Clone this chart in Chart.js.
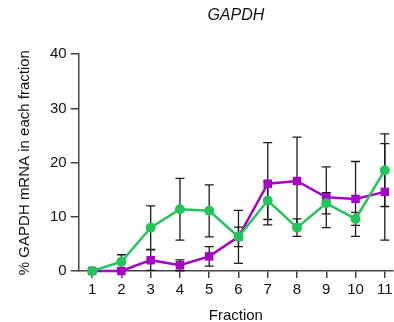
<!DOCTYPE html>
<html>
<head>
<meta charset="utf-8">
<script src="https://cdn.jsdelivr.net/npm/chart.js@4.4.1/dist/chart.umd.min.js"></script>
<style>
  html, body { margin: 0; padding: 0; background: #fff; }
  #wrap { width: 394px; height: 322px; position: relative; }
</style>
</head>
<body>
<div id="wrap"><canvas id="chart_1"></canvas></div>
<script>
const fractions = [1, 2, 3, 4, 5, 6, 7, 8, 9, 10, 11];
const greenValues = [0, 1.7, 8.0, 11.4, 11.1, 6.3, 13.0, 8.0, 12.5, 9.6, 18.6];
const greenErrors = [0, 1.3, 4.0, 5.7, 4.8, 4.9, 3.5, 1.6, 1.95, 1.2, 6.7];
const purpleValues = [0, 0, 2.0, 1.05, 2.7, 6.3, 16.1, 16.6, 13.6, 13.3, 14.6];
const purpleErrors = [0, 0.3, 1.9, 1.0, 1.8, 1.8, 7.6, 8.1, 5.6, 6.9, 8.9];
const yTicks = [0, 10, 20, 30, 40];

const GREEN = "#22c55a";
const PURPLE = "#a602c6";
const AXIS = "#444444";
const FONT = "'Liberation Sans', Arial, sans-serif";

function points(values) {
  return fractions.map(function (f, i) {
    return { x: f, y: values[i] };
  });
}

// draw mean +/- error whiskers from the scales
const errorBars = {
  id: "errorBars",
  beforeDatasetsDraw: function (chart) {
    const ctx = chart.ctx;
    const xs = chart.scales.x;
    const ys = chart.scales.y;
    const sets = [
      [greenValues, greenErrors],
      [purpleValues, purpleErrors],
    ];
    ctx.save();
    ctx.strokeStyle = "#1a1a1a";
    ctx.lineWidth = 1.3;
    sets.forEach(function (s) {
      fractions.forEach(function (f, i) {
        const err = s[1][i];
        if (!err) return;
        const px = xs.getPixelForValue(f);
        const top = ys.getPixelForValue(s[0][i] + err);
        const bot = ys.getPixelForValue(Math.max(0, s[0][i] - err));
        ctx.beginPath();
        ctx.moveTo(px, top);
        ctx.lineTo(px, bot);
        ctx.moveTo(px - 4.5, top);
        ctx.lineTo(px + 4.5, top);
        ctx.moveTo(px - 4.5, bot);
        ctx.lineTo(px + 4.5, bot);
        ctx.stroke();
      });
    });
    ctx.restore();
  },
};

const ctx1 = document.getElementById("chart_1").getContext("2d");
var myChart1 = new Chart(ctx1, {
  type: "line",
  data: {
    datasets: [
      {
        data: points(greenValues),
        borderColor: GREEN,
        backgroundColor: GREEN,
        borderWidth: 2.5,
        pointStyle: "circle",
        pointRadius: 5,
        pointBorderWidth: 0,
        tension: 0,
        clip: false,
      },
      {
        data: points(purpleValues),
        borderColor: PURPLE,
        backgroundColor: PURPLE,
        borderWidth: 2.5,
        pointStyle: "rect",
        pointRadius: 6,
        pointBorderWidth: 0,
        tension: 0,
        clip: false,
      },
    ],
  },
  options: {
    responsive: true,
    maintainAspectRatio: false,
    animation: false,
    layout: {
      autoPadding: false,
      padding: { left: 16, right: 1, top: 4, bottom: -1 },
    },
    plugins: {
      legend: { display: false },
      tooltip: { enabled: false },
      title: {
        display: true,
        text: "GAPDH",
        fullSize: false,
        color: "#111",
        font: { family: FONT, size: 16, style: "italic", weight: "normal" },
        padding: { top: 2, bottom: 29 },
      },
    },
    scales: {
      x: {
        type: "linear",
        min: 0.54,
        max: 11.28,
        afterBuildTicks: function (scale) {
          scale.ticks = fractions.map(function (v) {
            return { value: v };
          });
        },
        // let the axis run to the right edge like the original
        afterFit: function (scale) {
          scale.paddingRight = 0;
          scale.paddingLeft = 0;
        },
        border: { color: AXIS, width: 1.5 },
        grid: {
          drawOnChartArea: false,
          drawTicks: true,
          tickLength: 7,
          color: AXIS,
          lineWidth: 1.5,
        },
        ticks: {
          color: "#111",
          font: { family: FONT, size: 15 },
          padding: 3,
          maxRotation: 0,
          autoSkip: false,
        },
        title: {
          display: true,
          text: "Fraction",
          color: "#111",
          font: { family: FONT, size: 15, lineHeight: 1 },
          padding: { top: 6, bottom: 0 },
        },
      },
      y: {
        min: 0,
        max: 40,
        afterBuildTicks: function (scale) {
          scale.ticks = yTicks.map(function (v) {
            return { value: v };
          });
        },
        border: { color: AXIS, width: 1.5 },
        grid: {
          drawOnChartArea: false,
          drawTicks: true,
          tickLength: 8,
          color: AXIS,
          lineWidth: 1.5,
        },
        ticks: {
          color: "#111",
          font: { family: FONT, size: 15 },
          padding: 4,
        },
        title: {
          display: true,
          text: "% GAPDH mRNA in each fraction",
          color: "#111",
          font: { family: FONT, size: 15 },
          padding: { top: 0, bottom: 12 },
        },
      },
    },
  },
  plugins: [errorBars],
});
</script>
</body>
</html>
